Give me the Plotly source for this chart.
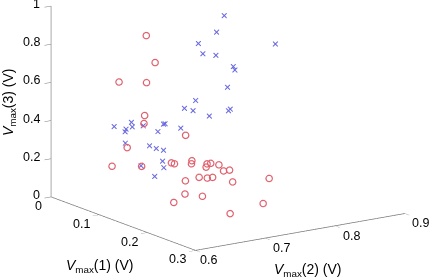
import plotly.graph_objects as go

red_x = [.09,.12,.09,.15,.12,.12,.15,.12,.09,.15,.18,.15,.15,.21,.18,.15,.21,.18,.21,.15,.18,.21,.24,.18,.21,.24,.24,.24,.27,.18,.24]
red_y = [.674,.666,.635,.633,.651,.650,.689,.626,.625,.626,.648,.673,.698,.656,.699,.725,.677,.716,.702,.752,.668,.667,.658,.707,.715,.626,.651,.610,.670,.788,.738]
red_z = [.882,.774,.664,.718,.506,.465,.406,.354,.229,.284,.316,.267,.267,.334,.278,.236,.303,.262,.267,.183,.209,.256,.286,.202,.201,.223,.195,.189,.120,.144,.101]

blue_x = [.09,.09,.09,.06,.09,.09,.06,.12,.09,.09,.06,.12,.09,.12,.06,.06,.09,.06,.09,.06,.09,.09,.06,.09,.12,.06,.09,.12,.09,.12,.15,.12,.15]
blue_y = [.786,.775,.749,.776,.774,.799,.822,.770,.745,.729,.762,.744,.792,.774,.880,.649,.653,.666,.644,.675,.670,.699,.722,.691,.703,.665,.679,.668,.699,.677,.658,.646,.645]
blue_z = [.914,.835,.792,.693,.714,.639,.578,.577,.496,.465,.404,.443,.412,.460,.677,.393,.441,.369,.397,.375,.412,.402,.361,.368,.406,.296,.301,.322,.265,.250,.256,.246,.219]

x_ticks = [0, .1, .2, .3]
y_ticks = [.6, .7, .8, .9]
z_ticks = [0, .2, .4, .6, .8, 1]

FONT = "Liberation Sans"
AXC = "#777777"
TF = dict(family=FONT, size=12.5, color="black")
LF = dict(family=FONT, size=14, color="black")

def axis(rng, ticks):
    return dict(range=rng, tickvals=ticks, showticklabels=False,
                title=dict(text=""), showgrid=False, zeroline=False, showbackground=False,
                showspikes=False, showline=True, linecolor=AXC, linewidth=1.5,
                ticks="outside", ticklen=8, tickcolor=AXC, tickwidth=1)

fig = go.Figure()
fig.add_trace(go.Scatter3d(x=red_x, y=red_y, z=red_z, mode="markers",
    marker=dict(symbol="circle-open", size=4, color="#e0606e", line=dict(color="#e0606e", width=1))))
fig.add_trace(go.Scatter3d(x=blue_x, y=blue_y, z=blue_z, mode="markers",
    marker=dict(symbol="x", size=1.2, color="#6a6ae0", line=dict(color="#6a6ae0", width=0))))

ann3d = []
for t in x_ticks:
    ann3d.append(dict(x=t, y=.6, z=0, text=f"{t:g}", showarrow=False, font=TF,
                      xshift=-13 if t == 0 else -18, yshift=-9))
for t in y_ticks:
    ann3d.append(dict(x=.3, y=t, z=0, text=f"{t:g}", showarrow=False, font=TF,
                      xshift=13 if t == .6 else 16, yshift=-10))
for t in z_ticks:
    ann3d.append(dict(x=0, y=.6, z=t, text=f"{t:g}", showarrow=False, font=TF,
                      xanchor="right", xshift=-9, yshift=2))

fig.update_layout(
    width=430, height=278, margin=dict(l=0, r=0, t=0, b=0), showlegend=False,
    paper_bgcolor="white",
    scene=dict(
        domain=dict(x=[0, 1], y=[0, 1]),
        xaxis=axis([0, .3], x_ticks), yaxis=axis([.6, .9], y_ticks), zaxis=axis([0, 1], z_ticks),
        aspectmode="manual", aspectratio=dict(x=1.83, y=1.83, z=1.42),
        camera=dict(projection=dict(type="orthographic"),
                    eye=dict(x=2.380, y=-1.755, z=.5635),
                    center=dict(x=-.008, y=-.108, z=-.203), up=dict(x=0, y=0, z=1)),
        annotations=ann3d,
    ),
    annotations=[
        dict(text="<i>V</i><sub>max</sub>(1) (V)", x=100/430, y=1-266/278, xref="paper", yref="paper", xanchor="center", yanchor="middle", showarrow=False, font=LF),
        dict(text="<i>V</i><sub>max</sub>(2) (V)", x=308/430, y=1-270/278, xref="paper", yref="paper", xanchor="center", yanchor="middle", showarrow=False, font=LF),
        dict(text="<i>V</i><sub>max</sub>(3) (V)", x=9/430, y=1-102/278, xref="paper", yref="paper", xanchor="center", yanchor="middle", showarrow=False, textangle=-90, font=LF),
    ],
)
fig.write_html("out.html", config=dict(displayModeBar=False),
               post_script="document.body.style.margin='0';document.body.style.overflow='hidden';")
